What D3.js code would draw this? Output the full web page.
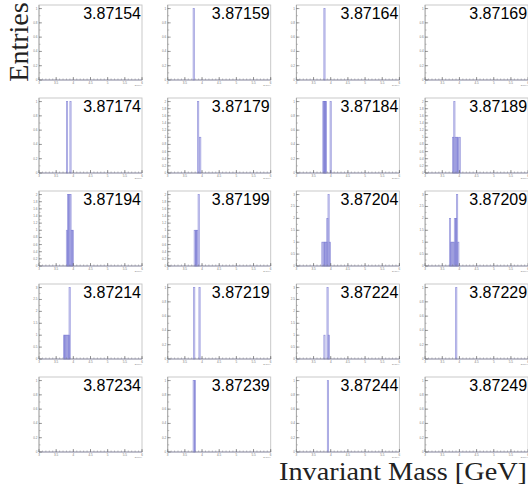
<!DOCTYPE html>
<html><head><meta charset="utf-8">
<script src="https://cdn.jsdelivr.net/npm/d3@7"></script>
<style>body{margin:0;background:#fff}svg{display:block}</style>
</head><body>
<svg id="c" width="528" height="486"></svg>
<script>
// ---- data ----
const titles = ["3.87154","3.87159","3.87164","3.87169",
                "3.87174","3.87179","3.87184","3.87189",
                "3.87194","3.87199","3.87204","3.87209",
                "3.87214","3.87219","3.87224","3.87229",
                "3.87234","3.87239","3.87244","3.87249"];
const yMax = [1,1,1,1, 1,2,1,2, 2,2,3,3, 3,1,3,1, 1,1,1,1];
const yStep = {1:0.2, 2:0.2, 3:0.5};
const xDomain = [3, 6];
const xTicks = [3, 3.5, 4, 4.5, 5, 5.5, 6];
const binWidth = 0.035;
// [mass (bin low edge, GeV), entries]
const bins = [
  [],
  [[3.74,1]],
  [[3.80,1]],
  [],
  [[3.80,1],[3.90,1]],
  [[3.87,2],[3.93,1]],
  [[3.77,1],[3.795,1],[3.82,1],[3.845,1],[3.98,1]],
  [[3.80,1],[3.835,2],[3.87,1],[3.905,1],[3.94,1],[3.99,1]],
  [[3.795,1],[3.83,2],[3.865,2],[3.90,2],[3.935,1],[3.965,1]],
  [[3.77,1],[3.805,1],[3.84,1],[3.885,2]],
  [[3.74,1],[3.78,1],[3.82,1],[3.86,1],[3.885,2],[3.92,3],[3.955,1]],
  [[3.71,2],[3.745,1],[3.78,1],[3.815,1],[3.85,2],[3.885,2],[3.915,3],[3.95,1]],
  [[3.71,1],[3.745,1],[3.78,1],[3.815,1],[3.85,1],[3.875,3]],
  [[3.755,1],[3.91,1]],
  [[3.80,1],[3.89,3],[3.925,1]],
  [[3.89,1]],
  [],
  [[3.74,1],[3.775,1]],
  [[3.90,1]],
  []
];

// ---- layout ----
const svg = d3.select("#c");
const nCols = 4;
const colLeft = c => 39 + c * 128.7;
const rowTop = r => 5 + r * 93;
const pw = 103, ph = 75;

titles.forEach((t, i) => {
  const r = Math.floor(i / nCols), c = i % nCols;
  const g = svg.append("g").attr("transform", `translate(${colLeft(c)},${rowTop(r)})`);
  const x = d3.scaleLinear().domain(xDomain).range([0, pw]);
  const ym = yMax[i];
  const y = d3.scaleLinear().domain([0, ym * 1.05]).range([ph, 0]);

  // frame
  g.append("rect").attr("x", 0).attr("y", 0).attr("width", pw).attr("height", ph)
    .attr("fill", "none").attr("stroke", "#c4c4c4").attr("stroke-width", 0.9);

  // bars
  g.selectAll("rect.bar").data(bins[i]).join("rect").attr("class", "bar")
    .attr("x", d => x(d[0]))
    .attr("width", d => x(d[0] + binWidth) - x(d[0]))
    .attr("y", d => y(d[1]))
    .attr("height", d => y(0) - y(d[1]))
    .attr("fill", "#7a7ad8").attr("fill-opacity", 0.22)
    .attr("stroke", "#7070d0").attr("stroke-width", 0.7).attr("stroke-opacity", 0.75);

  // x axis
  const xMinor = d3.range(xDomain[0], xDomain[1] + 1e-9, 0.1);
  g.selectAll("line.xm").data(xMinor).join("line")
    .attr("x1", d => x(d)).attr("x2", d => x(d)).attr("y1", ph).attr("y2", ph - 1.5)
    .attr("stroke", "#777").attr("stroke-width", 0.5);
  g.selectAll("line.xM").data(xTicks).join("line")
    .attr("x1", d => x(d)).attr("x2", d => x(d)).attr("y1", ph).attr("y2", ph - 3)
    .attr("stroke", "#555").attr("stroke-width", 0.6);
  g.append("line").attr("x1", 0).attr("x2", pw).attr("y1", ph).attr("y2", ph)
    .attr("stroke", "#8a8aa8").attr("stroke-width", 0.8);
  g.selectAll("text.xl").data(xTicks).join("text")
    .attr("x", d => x(d)).attr("y", ph + 3.6).attr("text-anchor", "middle")
    .attr("font-family", "Liberation Sans, Arial, sans-serif").attr("font-size", 3)
    .attr("fill", "#777").text(d => d);
  g.append("text").attr("x", pw).attr("y", ph + 5.6).attr("text-anchor", "end")
    .attr("font-family", "Liberation Sans, Arial, sans-serif").attr("font-size", 2.5)
    .attr("fill", "#888").text("E/GeV");

  // y axis
  const step = yStep[ym];
  const yT = d3.range(0, ym + 1e-9, step);
  const yMinorT = d3.range(0, ym * 1.05, step / 2);
  g.append("line").attr("x1", 0).attr("x2", 0).attr("y1", 0).attr("y2", ph)
    .attr("stroke", "#9a9a9a").attr("stroke-width", 0.7);
  g.selectAll("line.ym").data(yMinorT).join("line")
    .attr("x1", 0).attr("x2", 1.5).attr("y1", d => y(d)).attr("y2", d => y(d))
    .attr("stroke", "#888").attr("stroke-width", 0.5);
  g.selectAll("line.yM").data(yT).join("line")
    .attr("x1", 0).attr("x2", 3).attr("y1", d => y(d)).attr("y2", d => y(d))
    .attr("stroke", "#666").attr("stroke-width", 0.6);
  g.selectAll("text.yl").data(yT).join("text")
    .attr("x", -1.5).attr("y", d => y(d) + 1).attr("text-anchor", "end")
    .attr("font-family", "Liberation Sans, Arial, sans-serif").attr("font-size", 3)
    .attr("fill", "#777").text(d => +d.toFixed(1));

  // title
  g.append("text").attr("x", pw - 1).attr("y", 14).attr("text-anchor", "end")
    .attr("font-family", "Liberation Sans, Arial, Helvetica, sans-serif")
    .attr("font-size", 16).attr("fill", "#000").text(t);
});

// global axis titles
svg.append("text").attr("transform", "translate(28,42) rotate(-90)")
  .attr("text-anchor", "middle").attr("font-family", "Liberation Serif, DejaVu Serif, serif")
  .attr("font-size", 28).attr("fill", "#222").text("Entries");
svg.append("text").attr("x", 527).attr("y", 480).attr("text-anchor", "end")
  .attr("font-family", "Liberation Serif, DejaVu Serif, serif")
  .attr("font-size", 25).attr("textLength", 248).attr("lengthAdjust", "spacingAndGlyphs")
  .attr("fill", "#222").text("Invariant Mass [GeV]");
</script>
</body></html>
